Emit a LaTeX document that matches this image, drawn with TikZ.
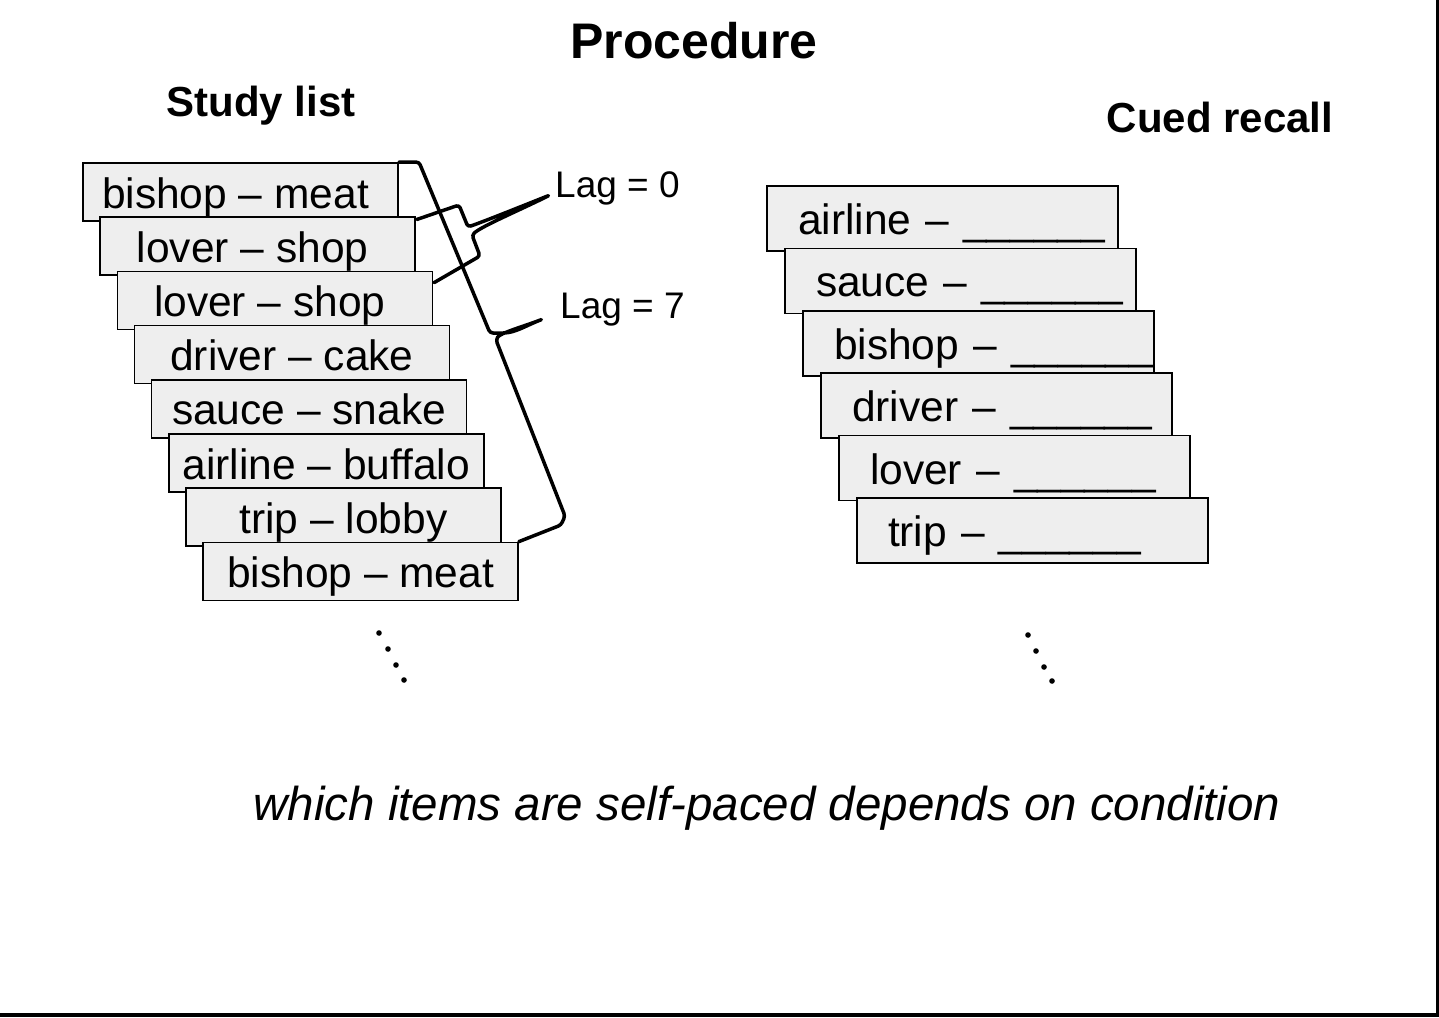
\documentclass[tikz,border=0pt]{standalone}
\usepackage{fontspec}
\setmainfont{Liberation Sans}
\usetikzlibrary{calc}
\definecolor{cardfill}{HTML}{EEEEEE}
\tikzset{
  card/.style={draw=black, line width=1.5pt, fill=cardfill, inner sep=0pt,
    minimum width=315pt, minimum height=58pt, text height=40pt, text depth=8pt,
    font=\fontsize{42.5}{50}\selectfont},
  cue/.style={draw=black, line width=1.5pt, fill=cardfill, inner sep=0pt,
    text width=351pt, align=left, minimum height=65pt, text height=40pt, text depth=8pt,
    font=\fontsize{42.5}{50}\selectfont},
  heading/.style={anchor=base, inner sep=0pt, font=\fontsize{42}{50}\selectfont\bfseries},
  lagtext/.style={anchor=base west, inner sep=0pt, font=\fontsize{37}{44}\selectfont},
  brace/.style={line width=3.5pt, line join=round, line cap=round, rounded corners=3pt},
  vdot/.style={fill=black},
}
\begin{document}
\begin{tikzpicture}[x=1pt, y=-1pt]
\useasboundingbox (0,0) rectangle (1439,1017);

% frame edges
\draw[line width=2.5pt] (1437.5,0) -- (1437.5,1017);
\draw[line width=4pt] (0,1015) -- (1439,1015);

% headings
\node[heading, font=\fontsize{50}{60}\selectfont\bfseries] (title) at (694,58) {Procedure};
\node[heading] (studyhead) at (261,116) {Study list};
\node[heading] (cuehead) at (1220,132) {Cued recall};

% study list cards
\node[card] (s1) at (240.5,192) {bishop – meat\hspace*{10pt}};
\node[card] (s2) at (257.65,246.2) {lover – shop\hspace*{10pt}};
\node[card] (s3) at (274.8,300.4) {lover – shop\hspace*{10pt}};
\node[card] (s4) at (291.95,354.6) {driver – cake};
\node[card] (s5) at (309.1,408.8) {sauce – snake};
\node[card] (s6) at (326.25,463) {airline – buffalo};
\node[card] (s7) at (343.4,517.2) {trip – lobby};
\node[card] (s8) at (360.55,571.4) {bishop – meat};

% cued recall cards
\node[cue] (c1) at (942.5,218.5) {\hspace*{31pt}airline – \_\_\_\_\_\_};
\node[cue] (c2) at (960.5,280.9) {\hspace*{31pt}sauce – \_\_\_\_\_\_};
\node[cue] (c3) at (978.5,343.3) {\hspace*{31pt}bishop – \_\_\_\_\_\_};
\node[cue] (c4) at (996.5,405.7) {\hspace*{31pt}driver – \_\_\_\_\_\_};
\node[cue] (c5) at (1014.5,468.1) {\hspace*{31pt}lover – \_\_\_\_\_\_};
\node[cue] (c6) at (1032.5,530.5) {\hspace*{31pt}trip – \_\_\_\_\_\_};

% lag labels
\node[lagtext] (lag0) at (555,197) {Lag = 0};
\node[lagtext] (lag7) at (560,318) {Lag = 7};
\coordinate (tip0) at (550,195);
\coordinate (tip7) at (543,319);

% brace spanning the two adjacent repetitions
\draw[brace] ($(s2.north east)+(1,3)$) -- (459,205) -- (468,227)
  .. controls (485,221) and (520,207) .. (tip0)
  .. controls (520,210) and (482,226) .. (472,235) -- (480,256)
  -- ($(s3.north east)+(1,12)$);

% brace spanning the spaced repetition
\draw[brace] (s1.north east) -- (419,162) -- (490,333) -- (500,333)
  .. controls (515,333) and (525,326) .. (tip7)
  .. controls (522,327) and (500,333) .. (496,340) -- (565,516) -- (561,525)
  -- (s8.north east);

% continuation dots
\foreach \p in {(379,633),(388,649),(396,665),(404,680)} \fill[vdot] \p circle (2.8);
\foreach \p in {(1028,635),(1036,651),(1044,667),(1052,681)} \fill[vdot] \p circle (2.8);

% footnote
\node[anchor=base, inner sep=0pt, font=\fontsize{47.5}{56}\selectfont\itshape] (note) at (767,820)
  {which items are self-paced depends on condition};
\end{tikzpicture}
\end{document}
